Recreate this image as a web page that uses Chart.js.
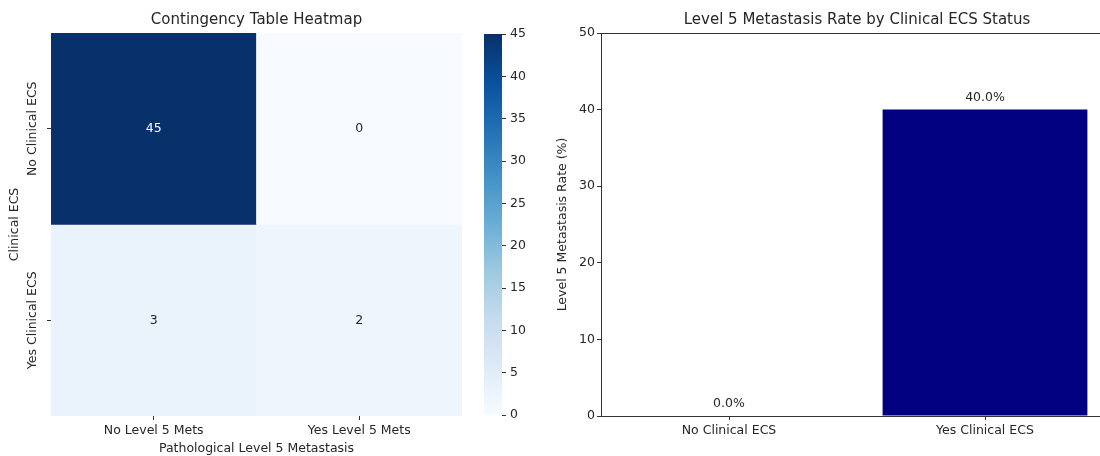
<!DOCTYPE html>
<html>
<head>
<meta charset="utf-8">
<script src="https://cdn.jsdelivr.net/npm/chart.js@4"></script>
<style>
  html, body { margin: 0; padding: 0; background: #fff; width: 1100px; height: 456px; overflow: hidden; position: relative; }
  canvas { position: absolute; top: 0; }
  #heat { left: 0; }
  #cbar { left: 484px; }
  #rate { left: 520px; }
</style>
</head>
<body>
<canvas id="heat" width="462" height="456"></canvas>
<canvas id="cbar" width="60" height="456"></canvas>
<canvas id="rate" width="595" height="456"></canvas>
<script>
// 히트맵 데이터
const metsCats = ['No Level 5 Mets', 'Yes Level 5 Mets'];
const ecsCats = ['No Clinical ECS', 'Yes Clinical ECS'];
const countsNoECS = [45, 0];
const countsYesECS = [3, 2];
const cbarMax = 45;
const cbarTicks = [0, 5, 10, 15, 20, 25, 30, 35, 40, 45];

// 막대 차트 데이터
const ecsGroups = ['No Clinical ECS', 'Yes Clinical ECS'];
const metsRates = [0.0, 40.0];
const rateTicks = [0, 10, 20, 30, 40, 50];

const FONT = 'DejaVu Sans';
const TXT = '#262626';
Chart.defaults.font.family = FONT;
Chart.defaults.color = TXT;

// Blues colormap
const blues = ['#f7fbff', '#deebf7', '#c6dbef', '#9ecae1', '#6baed6', '#4292c6', '#2171b5', '#08519c', '#08306b'];
function hexRgb(h) { return [1, 3, 5].map(i => parseInt(h.substr(i, 2), 16)); }
function bluesAt(t) {
    t = Math.max(0, Math.min(1, t));
    const p = t * (blues.length - 1);
    const i = Math.min(Math.floor(p), blues.length - 2);
    const f = p - i;
    const a = hexRgb(blues[i]), b = hexRgb(blues[i + 1]);
    const c = a.map((v, k) => Math.round(v + (b[k] - v) * f));
    return 'rgb(' + c.join(',') + ')';
}

const rows = [countsNoECS, countsYesECS];

// 셀 값 표시
const cellText = {
    id: 'cellText',
    afterDatasetsDraw(chart) {
        const ctx = chart.ctx;
        ctx.save();
        ctx.font = '12.5px "' + FONT + '"';
        ctx.textAlign = 'center';
        ctx.textBaseline = 'middle';
        chart.data.datasets.forEach((ds, di) => {
            chart.getDatasetMeta(di).data.forEach((el, i) => {
                const v = rows[di][i];
                ctx.fillStyle = v / cbarMax > 0.6 ? '#ffffff' : TXT;
                ctx.fillText(String(v), el.x, (el.y + el.base) / 2);
            });
        });
        ctx.restore();
    }
};

// 세로 회전 라벨
const rotLabels = {
    id: 'rotLabels',
    afterDraw(chart) {
        const y = chart.scales.y;
        const ctx = chart.ctx;
        ctx.save();
        ctx.font = '12.5px "' + FONT + '"';
        ctx.fillStyle = TXT;
        ctx.textAlign = 'center';
        ctx.textBaseline = 'middle';
        y.ticks.forEach((t, i) => {
            ctx.save();
            ctx.translate(y.right - 18, y.getPixelForValue(t.value));
            ctx.rotate(-Math.PI / 2);
            ctx.fillText(ecsCats[i], 0, 0);
            ctx.restore();
        });
        ctx.restore();
    }
};

new Chart(document.getElementById('heat'), {
    type: 'bar',
    data: {
        labels: metsCats,
        datasets: rows.map((r, ri) => ({
            data: r.map(() => [ri, ri + 1]),
            backgroundColor: r.map(v => bluesAt(v / cbarMax)),
            borderWidth: 0,
            grouped: false,
            barPercentage: 1,
            categoryPercentage: 1
        }))
    },
    options: {
        responsive: false,
        animation: false,
        layout: { padding: 0 },
        plugins: {
            legend: { display: false },
            tooltip: { enabled: false },
            title: {
                display: true,
                fullSize: false,
                text: 'Contingency Table Heatmap',
                font: { size: 15, weight: 'normal' },
                color: TXT,
                padding: { top: 11, bottom: 4 }
            }
        },
        scales: {
            x: {
                border: { display: false },
                grid: { offset: false, drawOnChartArea: false, tickLength: 4, color: '#333' },
                ticks: { font: { size: 12.5 }, padding: 3.5, color: TXT },
                title: { display: true, text: 'Pathological Level 5 Metastasis', font: { size: 12.5 }, padding: 0, color: TXT },
                afterFit(s) { s.height = 40; }
            },
            y: {
                min: 0,
                max: rows.length,
                reverse: true,
                border: { display: false },
                grid: { drawOnChartArea: false, tickLength: 4, color: '#333' },
                ticks: { display: false },
                afterBuildTicks(s) { s.ticks = ecsCats.map((c, i) => ({ value: i + 0.5 })); },
                title: { display: true, text: 'Clinical ECS', font: { size: 12.5 }, padding: { top: 7.5 }, color: TXT },
                afterFit(s) { s.width = 51; }
            }
        }
    },
    plugins: [cellText, rotLabels]
});

// 컬러바
new Chart(document.getElementById('cbar'), {
    type: 'bar',
    data: {
        labels: [''],
        datasets: [{
            data: [cbarMax],
            backgroundColor(c) {
                const chart = c.chart;
                if (!chart.chartArea) return blues[4];
                const ys = chart.scales.y;
                const g = chart.ctx.createLinearGradient(0, ys.getPixelForValue(0), 0, ys.getPixelForValue(cbarMax));
                blues.forEach((b, i) => g.addColorStop(i / (blues.length - 1), b));
                return g;
            },
            borderWidth: 0,
            barPercentage: 1,
            categoryPercentage: 1
        }]
    },
    options: {
        responsive: false,
        animation: false,
        layout: { padding: { top: 34, bottom: 41, left: 0, right: 0 } },
        plugins: { legend: { display: false }, tooltip: { enabled: false } },
        scales: {
            x: { display: false },
            y: {
                position: 'right',
                min: 0,
                max: cbarMax,
                border: { display: false },
                grid: { drawOnChartArea: false, tickLength: 4, color: '#333' },
                afterBuildTicks(s) { s.ticks = cbarTicks.map(v => ({ value: v })); },
                ticks: { font: { size: 12.5 }, padding: 4, color: TXT },
                afterFit(s) { s.width = 42; }
            }
        }
    }
});

// 막대 위 퍼센트 라벨 + 테두리
const barText = {
    id: 'barText',
    afterDatasetsDraw(chart) {
        const ctx = chart.ctx;
        const a = chart.chartArea;
        ctx.save();
        ctx.strokeStyle = '#333';
        ctx.lineWidth = 1;
        ctx.strokeRect(a.left + 0.5, a.top + 0.5, a.right - a.left, a.bottom - a.top);
        ctx.font = '12.5px "' + FONT + '"';
        ctx.fillStyle = TXT;
        ctx.textAlign = 'center';
        ctx.textBaseline = 'bottom';
        chart.getDatasetMeta(0).data.forEach((el, i) => {
            ctx.fillText(metsRates[i].toFixed(1) + '%', el.x, el.y - 6);
        });
        ctx.restore();
    }
};

new Chart(document.getElementById('rate'), {
    type: 'bar',
    data: {
        labels: ecsGroups,
        datasets: [{
            data: metsRates,
            backgroundColor: '#000080',
            borderWidth: 0,
            barPercentage: 0.8,
            categoryPercentage: 1
        }]
    },
    options: {
        responsive: false,
        animation: false,
        layout: { padding: { right: 2, left: 0, top: 0, bottom: 0 } },
        plugins: {
            legend: { display: false },
            tooltip: { enabled: false },
            title: {
                display: true,
                fullSize: false,
                text: 'Level 5 Metastasis Rate by Clinical ECS Status',
                font: { size: 15, weight: 'normal' },
                color: TXT,
                padding: { top: 11, bottom: 4 }
            }
        },
        scales: {
            x: {
                border: { display: false },
                grid: { offset: false, drawOnChartArea: false, tickLength: 4, color: '#333' },
                ticks: { font: { size: 12.5 }, padding: 3.5, color: TXT },
                afterFit(s) { s.height = 40; }
            },
            y: {
                min: 0,
                max: 50,
                border: { display: false },
                grid: { drawOnChartArea: false, tickLength: 4, color: '#333' },
                afterBuildTicks(s) { s.ticks = rateTicks.map(v => ({ value: v })); },
                ticks: { font: { size: 12.5 }, padding: 2, color: TXT },
                title: { display: true, text: 'Level 5 Metastasis Rate (%)', font: { size: 12.5 }, padding: { top: 35.5 }, color: TXT },
                afterFit(s) { s.width = 81; }
            }
        }
    },
    plugins: [barText]
});
</script>
</body>
</html>
